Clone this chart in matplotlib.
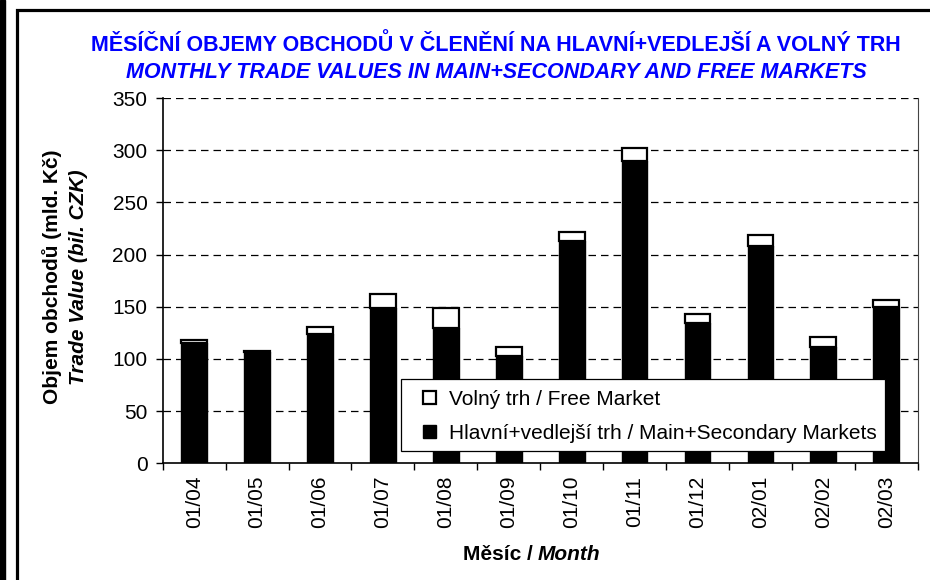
import matplotlib.pyplot as plt
import matplotlib.patches as mpatches
import numpy as np

plt.rcParams['font.family'] = ['Liberation Sans', 'DejaVu Sans']

months = ['01/04', '01/05', '01/06', '01/07', '01/08', '01/09',
          '01/10', '01/11', '01/12', '02/01', '02/02', '02/03']
main_sec = [115, 107, 124, 149, 130, 103, 213, 290, 134, 208, 111, 150]
free_mkt = [3, 0.3, 7, 13, 19, 8, 9, 12, 9, 11, 10, 6]

W, H = 930, 580
fig = plt.figure(figsize=(W / 100, H / 100), dpi=100)

# outer frame like the original document
fig.patches.append(mpatches.Rectangle((0, 0), 5 / W, 1, transform=fig.transFigure,
                                      color='black', zorder=0))
fig.patches.append(mpatches.Rectangle((16.5 / W, -0.1), 1.2, 1.1 - 10.5 / H,
                                      transform=fig.transFigure, fill=False,
                                      edgecolor='black', linewidth=2.3, zorder=0))

ax = fig.add_axes([162.7 / W, (H - 463.3) / H, 755 / W, 365.3 / H])
x = np.arange(len(months))
bw = 0.41
ax.bar(x, main_sec, bw, color='black', edgecolor='black', linewidth=1,
       label='Hlavní+vedlejší trh / Main+Secondary Markets', zorder=3)
ax.bar(x, free_mkt, bw, bottom=main_sec, color='white', edgecolor='black',
       linewidth=1.6, label='Volný trh / Free Market', zorder=3)

ax.set_xlim(-0.5, len(months) - 0.5)
ax.set_ylim(0, 350)
ax.set_yticks(range(0, 351, 50))
ax.tick_params(axis='y', labelsize=15, length=5, direction='out', width=1, pad=6)
ax.set_xticks(x)
ax.set_xticklabels(months, rotation=90, fontsize=15)
ax.tick_params(axis='x', length=0, pad=9)
ax.set_xticks(np.arange(-0.5, len(months), 1), minor=True)
ax.tick_params(axis='x', which='minor', length=5, direction='out', width=1)
for v in range(50, 351, 50):
    ax.axhline(v, color='black', linestyle=(0, (6, 4)), linewidth=0.9, zorder=1)
ax.spines['top'].set_visible(False)
ax.spines['right'].set_linewidth(0.8)
ax.spines['right'].set_color('#444444')
ax.spines['left'].set_linewidth(1.2)
ax.spines['bottom'].set_linewidth(1.2)

# titles
fig.text(496 / W, 1 - 45 / H, 'MĚSÍČNÍ OBJEMY OBCHODŮ V ČLENĚNÍ NA HLAVNÍ+VEDLEJŠÍ A VOLNÝ TRH',
         ha='center', va='center', color='#0000ff', fontsize=15.5, fontweight='bold')
fig.text(496 / W, 1 - 73 / H, 'MONTHLY TRADE VALUES IN MAIN+SECONDARY AND FREE MARKETS',
         ha='center', va='center', color='#0000ff', fontsize=15.5, fontweight='bold',
         style='italic')

# y label in two lines
fig.text(52 / W, 1 - 277 / H, 'Objem obchodů (mld. Kč)', rotation=90, ha='center',
         va='center', fontsize=15, fontweight='bold')
fig.text(79 / W, 1 - 277 / H, 'Trade Value (bil. CZK)', rotation=90, ha='center',
         va='center', fontsize=15, fontweight='bold', style='italic')

# x label
fig.text(538 / W, 1 - 554 / H, 'Měsíc / ', ha='right', va='center', fontsize=15,
         fontweight='bold')
fig.text(538 / W, 1 - 554 / H, 'Month', ha='left', va='center', fontsize=15,
         fontweight='bold', style='italic')

# legend box drawn separately so the padding matches
box = mpatches.Rectangle((401 / W, 1 - 451 / H), 484 / W, 72 / H,
                         transform=fig.transFigure, facecolor='white',
                         edgecolor='black', linewidth=0.9, zorder=4, clip_on=False)
ax.add_patch(box)
handles, labels = ax.get_legend_handles_labels()
leg = ax.legend(handles[::-1], labels[::-1], loc='upper left',
                bbox_to_anchor=(423 / W, 1 - 390 / H), bbox_transform=fig.transFigure,
                fontsize=15, frameon=False, handlelength=0.6, handleheight=0.6,
                borderpad=0, labelspacing=0.7, handletextpad=0.65,
                borderaxespad=0)
leg.set_zorder(6)

fig.savefig('out.png', dpi=100)
